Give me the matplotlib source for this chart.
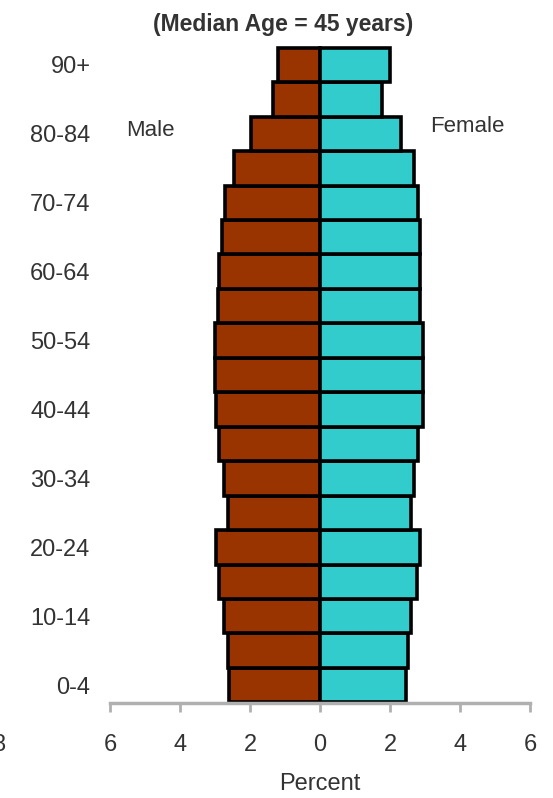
import numpy as np
import matplotlib
matplotlib.use("Agg")
import matplotlib.pyplot as plt

plt.rcParams['font.family'] = ['Liberation Sans', 'DejaVu Sans']

# age groups, youngest first
edades = ['0-4', '5-9', '10-14', '15-19', '20-24', '25-29', '30-34', '35-39',
          '40-44', '45-49', '50-54', '55-59', '60-64', '65-69', '70-74',
          '75-79', '80-84', '85-89', '90+']
hombres = [2.6, 2.63, 2.74, 2.89, 2.97, 2.63, 2.74, 2.89, 2.97, 3.0, 3.0,
           2.91, 2.89, 2.8, 2.71, 2.46, 1.97, 1.34, 1.2]
mujeres = [2.46, 2.51, 2.6, 2.77, 2.86, 2.6, 2.69, 2.8, 2.94, 2.94, 2.94,
           2.86, 2.86, 2.86, 2.8, 2.69, 2.31, 1.77, 2.0]
ticks_x = [-6, -4, -2, 0, 2, 4, 6]

fig = plt.figure(figsize=(5.53, 7.98), dpi=100)
ax = fig.add_axes([110/553, 95/798, 420/553, 658/798])

y = np.arange(len(edades))
ax.barh(y, -np.array(hombres), height=1.0, color='#993300', edgecolor='black', linewidth=2.6)
ax.barh(y, mujeres, height=1.0, color='#33CCCC', edgecolor='black', linewidth=2.6)

ax.set_xlim(-6, 6)
ax.set_ylim(-0.52, 18.58)

# x axis
ax.set_xticks(ticks_x)
ax.set_xticklabels([str(abs(t)) for t in ticks_x], fontsize=17, color='#333333')
ax.tick_params(axis='x', direction='out', length=6.5, width=2, color='#b0b0b0', pad=16)
ax.spines['bottom'].set_color('#b0b0b0')
ax.spines['bottom'].set_linewidth(2.5)
for s in ['top', 'right', 'left']:
    ax.spines[s].set_visible(False)

# y axis: solo cada dos grupos
ax.set_yticks(y[::2])
ax.set_yticklabels(edades[::2], fontsize=17, color='#333333')
ax.tick_params(axis='y', length=0, pad=14)

ax.set_xlabel('Percent', fontsize=17, color='#333333', labelpad=12)

fig.text(283/553, 1 - 25/798, '(Median Age = 45 years)', ha='center', va='center',
         fontsize=16.5, fontweight='bold', color='#333333')
fig.text(150/553, 1 - 131/798, 'Male', ha='center', va='center', fontsize=16, color='#333333')
fig.text(467/553, 1 - 127/798, 'Female', ha='center', va='center', fontsize=16, color='#333333')
# numero cortado en el borde izquierdo
fig.text(0, 1 - 745/798, '8', ha='center', va='center', fontsize=17, color='#333333')

fig.savefig('out.png', dpi=100)
